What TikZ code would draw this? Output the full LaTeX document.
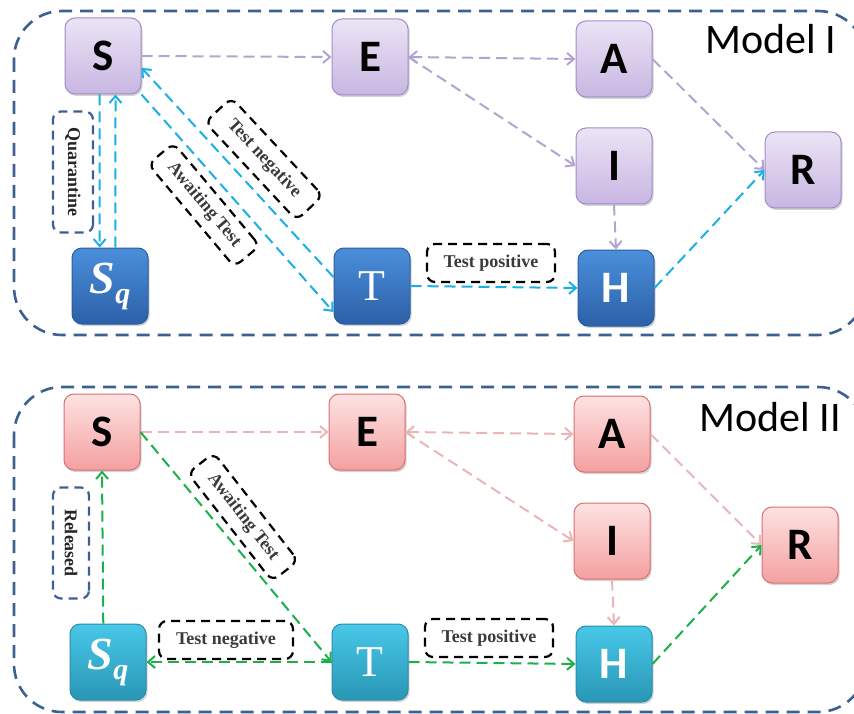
\documentclass[tikz,border=0pt]{standalone}
\usepackage{fontspec}
\setmainfont{Liberation Serif}
\setsansfont{Carlito}
\usetikzlibrary{arrows.meta,shadows}

\definecolor{lilactop}{HTML}{EBE4F5}
\definecolor{lilacbot}{HTML}{C8B6E2}
\definecolor{lilacline}{HTML}{A08CC8}
\definecolor{bluetop}{HTML}{4B8FDB}
\definecolor{bluebot}{HTML}{2C60A8}
\definecolor{blueline}{HTML}{2B5C9E}
\definecolor{rosetop}{HTML}{FEE2E2}
\definecolor{rosebot}{HTML}{F4A0A0}
\definecolor{roseline}{HTML}{D97070}
\definecolor{tealtop}{HTML}{48C8E8}
\definecolor{tealbot}{HTML}{2996B5}
\definecolor{tealline}{HTML}{2A8CAA}
\definecolor{lilacflow}{HTML}{B3A3D1}
\definecolor{cyanflow}{HTML}{1AAFE6}
\definecolor{roseflow}{HTML}{EAB5B5}
\definecolor{greenflow}{HTML}{1CB04A}
\definecolor{frame}{HTML}{3C6090}
\definecolor{labgray}{HTML}{3A3A3A}

\begin{document}
\begin{tikzpicture}
      [%%%%%%%%%%%%%%%%%%%%%%%%%%%%%%
      x=1pt,y=-1pt,
      >={Straight Barb[length=7pt,width=12pt]},
      comp/.style={rectangle,rounded corners=10pt,minimum size=76pt,inner sep=0pt,line width=1pt,
        drop shadow={opacity=0.35,shadow xshift=1.5pt,shadow yshift=-2pt},
        font=\sffamily\bfseries\fontsize{45}{45}\selectfont},
      lilacbox/.style={comp,draw=lilacline,top color=lilactop,bottom color=lilacbot},
      bluebox/.style={comp,draw=blueline,top color=bluetop,bottom color=bluebot,text=white},
      rosebox/.style={comp,draw=roseline,top color=rosetop,bottom color=rosebot},
      tealbox/.style={comp,draw=tealline,top color=tealtop,bottom color=tealbot,text=white},
      sqtext/.style={font=\rmfamily\bfseries\itshape\fontsize{46}{46}\selectfont},
      ttext/.style={font=\rmfamily\fontsize{44}{44}\selectfont},
      flow/.style={->,line width=2pt,dash pattern=on 11pt off 6pt},
      lilacarrow/.style={flow,draw=lilacflow},
      cyanarrow/.style={flow,draw=cyanflow},
      rosearrow/.style={flow,draw=roseflow},
      greenarrow/.style={flow,draw=greenflow},
      modelframe/.style={draw=frame,line width=2.6pt,dash pattern=on 13pt off 8pt,rounded corners=48pt},
      lab/.style={draw=black,line width=2.2pt,dash pattern=on 9pt off 6pt,rounded corners=8pt,inner sep=0pt,
        text=labgray,font=\rmfamily\bfseries\fontsize{18}{18}\selectfont},
      sidelab/.style={lab,draw=frame,rotate=-90,text=black!85},
      modellab/.style={anchor=base west,font=\sffamily\fontsize{42}{42}\selectfont},
      ]%%%%%%%%%%%%%%%%%%%%%%%%%%%%%%

      \useasboundingbox (0,0) rectangle (854,714);
      \clip (0,0) rectangle (854,714);

      % Model I
      \draw[modelframe] (14,11) rectangle (866,335);
      \node[modellab] (m1) at (702,54) {Model I};

      \node[lilacbox] (S1) at (103,56) {S};
      \node[lilacbox] (E1) at (370,57) {E};
      \node[lilacbox] (A1) at (614,59) {A};
      \node[lilacbox] (I1) at (614,166) {I};
      \node[lilacbox] (R1) at (803,170) {R};
      \node[bluebox] (H1) at (616,288) {H};
      \node[bluebox,ttext] (T1) at (372,286) {T};
      \node[bluebox,sqtext] (Sq1) at (110,286) {S\raisebox{-10pt}{\fontsize{30}{30}\selectfont q}};

      \foreach \a/\b in {S1.east/E1.west,E1.east/I1.west,A1.east/R1.west,I1.south/H1.north}
        \draw[lilacarrow] (\a) -- (\b);
      \draw[lilacarrow,<->] (E1.east) -- (A1.west);

      \draw[cyanarrow] (H1.east) -- (R1.west);
      \draw[cyanarrow] (T1.east) -- (H1.west);
      \draw[cyanarrow] (S1.-95) -- (Sq1.105);
      \draw[cyanarrow] (Sq1.82) -- (S1.-72);
      \draw[cyanarrow] (T1.167) -- (S1.-17);
      \draw[cyanarrow] (S1.-45) -- (T1.214);

      \node[lab,minimum width=128pt,minimum height=38pt] (pos1) at (491,263) {Test positive};
      \node[lab,rotate=-47,minimum width=134pt,minimum height=36pt] (neg1) at (264,159) {Test negative};
      \node[lab,rotate=-50,minimum width=134pt,minimum height=33pt] (wait1) at (204,205) {Awaiting Test};
      \node[sidelab,minimum width=121pt,minimum height=40pt] (quar) at (73,172) {Quarantine};

      % Model II
      \draw[modelframe] (14,387) rectangle (866,712);
      \node[modellab] (m2) at (696,431) {Model II};

      \node[rosebox] (S2) at (102,432) {S};
      \node[rosebox] (E2) at (367,432) {E};
      \node[rosebox] (A2) at (612,434) {A};
      \node[rosebox] (I2) at (612,541) {I};
      \node[rosebox] (R2) at (800,545) {R};
      \node[tealbox] (H2) at (614,664) {H};
      \node[tealbox,ttext] (T2) at (370,662) {T};
      \node[tealbox,sqtext] (Sq2) at (108,662) {S\raisebox{-10pt}{\fontsize{30}{30}\selectfont q}};

      \foreach \a/\b in {S2.east/E2.west,E2.east/I2.west,A2.east/R2.west,I2.south/H2.north}
        \draw[rosearrow] (\a) -- (\b);
      \draw[rosearrow,<->] (E2.east) -- (A2.west);

      \draw[greenarrow] (H2.east) -- (R2.west);
      \draw[greenarrow] (T2.east) -- (H2.west);
      \draw[greenarrow] (T2.west) -- (Sq2.east);
      \draw[greenarrow] (Sq2.97) -- (S2.south);
      \draw[greenarrow] (S2.east) -- (T2.west);

      \node[lab,minimum width=128pt,minimum height=38pt] (pos2) at (489,638) {Test positive};
      \node[lab,minimum width=134pt,minimum height=38pt] (neg2) at (226,640) {Test negative};
      \node[lab,rotate=-52,minimum width=137pt,minimum height=33pt] (wait2) at (243,517) {Awaiting Test};
      \node[sidelab,minimum width=111pt,minimum height=36pt] (rel) at (71,543) {Released};
\end{tikzpicture}
\end{document}
